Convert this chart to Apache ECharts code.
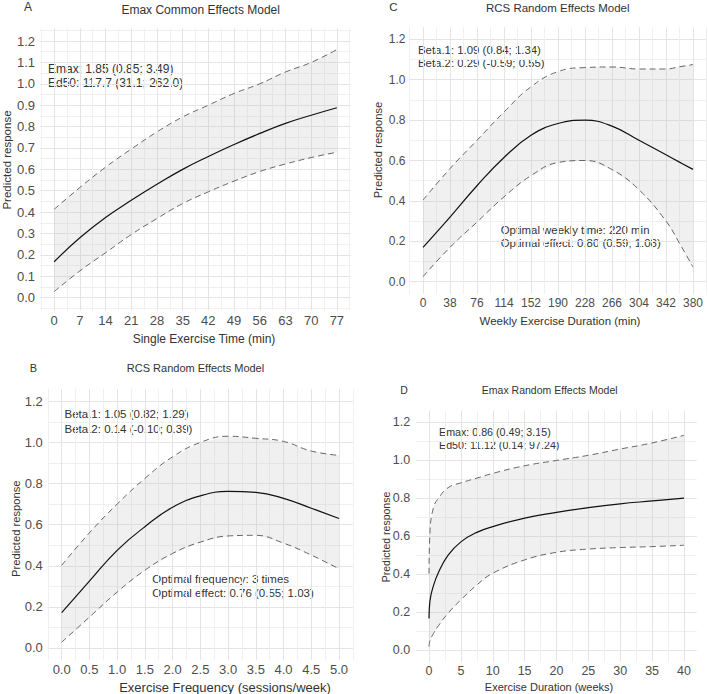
<!DOCTYPE html>
<html>
<head>
<meta charset="utf-8">
<script src="https://cdn.jsdelivr.net/npm/echarts@6/dist/echarts.min.js"></script>
<style>
  html, body { margin: 0; padding: 0; background: #fff; }
  #chart { width: 708px; height: 694px; }
</style>
</head>
<body>
<div id="chart"></div>
<script>
// A - Emax common effects, single exercise time (min)
const timeA  = [0, 7, 14, 21, 28, 35, 42, 49, 56, 63, 70, 77];
const meanA  = [0.168, 0.28, 0.375, 0.455, 0.53, 0.60, 0.66, 0.716, 0.768, 0.815, 0.853, 0.888];
const upperA = [0.413, 0.515, 0.61, 0.695, 0.775, 0.845, 0.90, 0.955, 1.0, 1.055, 1.10, 1.16];
const lowerA = [0.028, 0.125, 0.21, 0.295, 0.37, 0.44, 0.495, 0.545, 0.59, 0.625, 0.655, 0.68];

// C - RCS random effects, weekly exercise duration (min)
const weeklyC = [0, 38, 76, 114, 152, 190, 228, 266, 304, 342, 361, 380];
const meanC   = [0.17, 0.32, 0.475, 0.615, 0.725, 0.783, 0.80, 0.77, 0.70, 0.628, 0.592, 0.556];
const upperC  = [0.404, 0.56, 0.70, 0.84, 0.965, 1.04, 1.06, 1.063, 1.053, 1.053, 1.064, 1.075];
const lowerC  = [0.025, 0.17, 0.295, 0.42, 0.525, 0.59, 0.60, 0.555, 0.455, 0.30, 0.19, 0.072];

// B - RCS random effects, exercise frequency (sessions/week)
const freqB  = [0, 0.5, 1.0, 1.5, 2.0, 2.5, 3.0, 3.5, 4.0, 4.5, 5.0];
const meanB  = [0.172, 0.325, 0.475, 0.59, 0.685, 0.74, 0.762, 0.757, 0.728, 0.68, 0.63];
const upperB = [0.402, 0.56, 0.70, 0.825, 0.93, 1.0, 1.03, 1.02, 1.005, 0.958, 0.937];
const lowerB = [0.028, 0.15, 0.272, 0.378, 0.46, 0.515, 0.545, 0.548, 0.51, 0.452, 0.385];

// D - Emax random effects, exercise duration (weeks)
const weeksD = [0, 0.15, 0.7, 1.5, 3, 5, 7.5, 10, 15, 20, 25, 30, 35, 40];
const meanD  = [0.167, 0.26, 0.34, 0.41, 0.50, 0.57, 0.62, 0.65, 0.695, 0.725, 0.75, 0.77, 0.785, 0.80];
const upperD = [0.403, 0.62, 0.75, 0.80, 0.855, 0.88, 0.905, 0.93, 0.97, 0.998, 1.025, 1.058, 1.09, 1.13];
const lowerD = [0.02, 0.05, 0.088, 0.13, 0.195, 0.265, 0.343, 0.405, 0.475, 0.515, 0.532, 0.54, 0.545, 0.552];

// tick labels
const ticksA = [0, 7, 14, 21, 28, 35, 42, 49, 56, 63, 70, 77];
const ticksC = [0, 38, 76, 114, 152, 190, 228, 266, 304, 342, 380];
const ticksB = [0, 0.5, 1, 1.5, 2, 2.5, 3, 3.5, 4, 4.5, 5];
const ticksD = [0, 5, 10, 15, 20, 25, 30, 35, 40];
const yTicksA = [0, 0.1, 0.2, 0.3, 0.4, 0.5, 0.6, 0.7, 0.8, 0.9, 1.0, 1.1, 1.2];
const yTicks = [0, 0.2, 0.4, 0.6, 0.8, 1.0, 1.2];

const FONT = "'Liberation Sans', Arial, Helvetica, sans-serif";
const MAJOR = '#e4e4e4';
const MINOR = '#f0f0f0';
const BAND = 'rgba(185,185,185,0.22)';

function steps(from, to, step) {
  let out = [];
  for (let k = 0; from + k * step <= to + 1e-9; k++) {
    out.push(Math.round((from + k * step) * 10000) / 10000);
  }
  return out;
}

function xAxis(i, min, max, lines, labels, colors, fmt, size) {
  return {
    type: 'value', gridIndex: i, min: min, max: max,
    axisLine: { show: false, onZero: false },
    axisTick: { show: false, customValues: lines },
    splitLine: { show: true, lineStyle: { color: colors, width: 1 } },
    axisLabel: { customValues: labels, formatter: fmt, color: '#4d4d4d', fontSize: size, fontFamily: FONT, margin: 3 }
  };
}

function yAxis(i, lines, labels, colors, size, margin) {
  return {
    type: 'value', gridIndex: i, min: -0.06, max: 1.26,
    axisLine: { show: false, onZero: false },
    axisTick: { show: false, customValues: lines },
    splitLine: { show: true, lineStyle: { color: colors, width: 1 } },
    axisLabel: { customValues: labels, formatter: v => v.toFixed(1), color: '#4d4d4d', fontSize: size, fontFamily: FONT, margin: margin }
  };
}

function panelSeries(i, xs, mean, lower, upper) {
  const sm = 0.45;
  const pairs = arr => xs.map((x, k) => [x, arr[k]]);
  return [
    {
      // confidence band: upper edge forward, lower edge back
      type: 'custom', xAxisIndex: i, yAxisIndex: i, silent: true,
      data: xs.map((x, k) => [x, lower[k], upper[k]]),
      renderItem: function (params, api) {
        if (params.dataIndex !== 0) return null;
        let pts = [];
        for (let k = 0; k < xs.length; k++) pts.push(api.coord([xs[k], upper[k]]));
        for (let k = xs.length - 1; k >= 0; k--) pts.push(api.coord([xs[k], lower[k]]));
        return { type: 'polygon', shape: { points: pts }, style: { fill: BAND } };
      }
    },
    { type: 'line', xAxisIndex: i, yAxisIndex: i, data: pairs(upper), symbol: 'none', smooth: sm,
      lineStyle: { color: '#666', width: 1, type: [6, 4] } },
    { type: 'line', xAxisIndex: i, yAxisIndex: i, data: pairs(lower), symbol: 'none', smooth: sm,
      lineStyle: { color: '#666', width: 1, type: [6, 4] } },
    { type: 'line', xAxisIndex: i, yAxisIndex: i, data: pairs(mean), symbol: 'none', smooth: sm,
      lineStyle: { color: '#111', width: 1.2 } }
  ];
}

function txt(x, y, text, size, opts) {
  opts = opts || {};
  return {
    type: 'text', x: x, y: y, rotation: opts.rotate ? Math.PI / 2 : 0, silent: true,
    style: {
      text: text, fill: opts.color || '#333', font: size + 'px ' + FONT,
      textAlign: opts.align || 'center', textVerticalAlign: 'middle'
    }
  };
}

const chart = echarts.init(document.getElementById('chart'), null, { renderer: 'svg' });

let option = {
  animation: false,
  backgroundColor: '#fff',
  grid: [
    { left: 40, top: 28.2, width: 311, height: 282.3 },        // A
    { left: 409.5, top: 27.2, width: 297, height: 266.6 },     // C
    { left: 47.8, top: 389, width: 305.1, height: 271.3 },     // B
    { left: 416.25, top: 410.6, width: 280.5, height: 251.1 }  // D
  ],
  xAxis: [
    xAxis(0, -3.85, 80.85, steps(-3.5, 80.5, 3.5), ticksA, [MINOR, MAJOR], v => String(v), 13),
    xAxis(1, -19, 399, steps(-19, 399, 19), ticksC, [MINOR, MAJOR], v => String(v), 12),
    xAxis(2, -0.25, 5.25, steps(-0.25, 5.25, 0.25), ticksB, [MINOR, MAJOR], v => v.toFixed(1), 13),
    xAxis(3, -2, 42, steps(0, 40, 2.5), ticksD, [MAJOR, MINOR], v => String(v), 12.5)
  ],
  yAxis: [
    yAxis(0, steps(-0.05, 1.25, 0.05), yTicksA, [MINOR, MAJOR], 13, 5),
    yAxis(1, steps(0, 1.2, 0.1), yTicks, [MAJOR, MINOR], 12, 4),
    yAxis(2, steps(0, 1.2, 0.1), yTicks, [MAJOR, MINOR], 13, 5),
    yAxis(3, steps(0, 1.2, 0.1), yTicks, [MAJOR, MINOR], 12.5, 6)
  ],
  series: [].concat(
    panelSeries(0, timeA, meanA, lowerA, upperA),
    panelSeries(1, weeklyC, meanC, lowerC, upperC),
    panelSeries(2, freqB, meanB, lowerB, upperB),
    panelSeries(3, weeksD, meanD, lowerD, upperD)
  ),
  graphic: [
    // panel letters and titles
    txt(28, 7, 'A', 12),
    txt(200.7, 10, 'Emax Common Effects Model', 12),
    txt(393.5, 7, 'C', 11.5),
    txt(557.7, 7.5, 'RCS Random Effects Model', 11.5),
    txt(33.5, 368, 'B', 11),
    txt(195.5, 367.7, 'RCS Random Effects Model', 11),
    txt(404, 390, 'D', 10.5),
    txt(549.7, 389.7, 'Emax Random Effects Model', 10.5),
    // axis titles
    txt(204, 339, 'Single Exercise Time (min)', 12),
    txt(7, 160, 'Predicted response', 11.5, { rotate: true }),
    txt(560, 320.7, 'Weekly Exercise Duration (min)', 11.5),
    txt(378, 150, 'Predicted response', 11.2, { rotate: true }),
    txt(225, 687, 'Exercise Frequency (sessions/week)', 13),
    txt(15.7, 528.7, 'Predicted response', 11.2, { rotate: true }),
    txt(549, 687, 'Exercise Duration (weeks)', 11),
    txt(385.7, 537, 'Predicted response', 10.5, { rotate: true }),
    // annotations
    txt(48, 69, 'Emax: 1.85 (0.85; 3.49)', 12, { align: 'left' }),
    txt(48, 83, 'Ed50: 117.7 (31.1; 262.0)', 12, { align: 'left' }),
    txt(418, 50, 'Beta.1: 1.09 (0.84; 1.34)', 11.4, { align: 'left' }),
    txt(418, 63.3, 'Beta.2: 0.29 (-0.59; 0.55)', 11.4, { align: 'left' }),
    txt(500.7, 230, 'Optimal weekly time: 220 min', 11.4, { align: 'left' }),
    txt(500.7, 242.7, 'Optimal effect: 0.80 (0.59; 1.08)', 11.4, { align: 'left' }),
    txt(64.5, 414, 'Beta.1: 1.05 (0.82; 1.29)', 11.5, { align: 'left' }),
    txt(64.5, 428.5, 'Beta.2: 0.14 (-0.10; 0.39)', 11.5, { align: 'left' }),
    txt(152.3, 578.7, 'Optimal frequency: 3 times', 11.5, { align: 'left' }),
    txt(152.3, 593, 'Optimal effect: 0.76 (0.55; 1.03)', 11.5, { align: 'left' }),
    txt(439, 432, 'Emax: 0.86 (0.49; 3.15)', 10.7, { align: 'left' }),
    txt(439, 444.7, 'Ed50: 11.12 (0.14; 97.24)', 10.7, { align: 'left' })
  ]
};

chart.setOption(option);
</script>
</body>
</html>
